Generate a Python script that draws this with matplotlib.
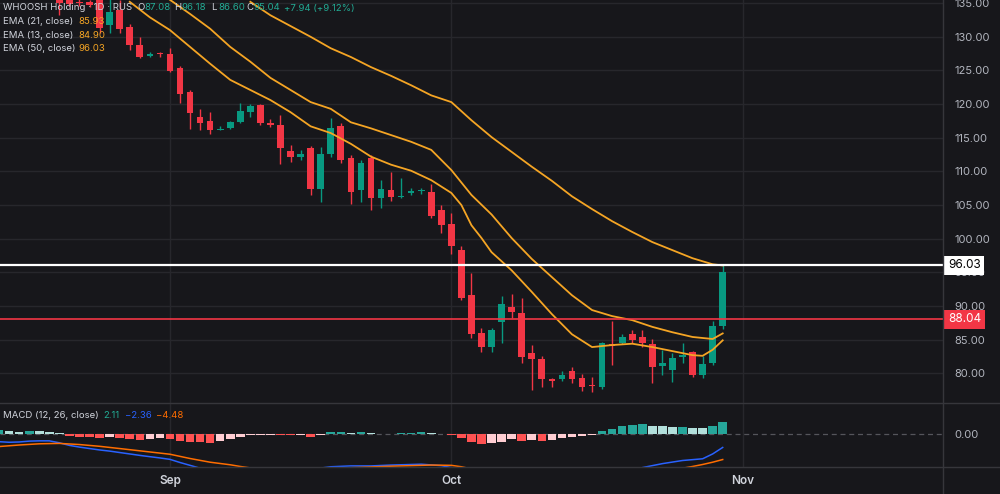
import numpy as np
import matplotlib.pyplot as plt
from matplotlib.lines import Line2D
from matplotlib.transforms import blended_transform_factory

plt.rcParams['font.family'] = ['Inter', 'DejaVu Sans']

BG = '#17171b'
GRID = '#27272c'
SEP = '#36363b'
TEXT = '#b2b5be'
UP = '#089981'
DOWN = '#f23645'
EMA_COL = '#f5a524'

# ---- candles (daily bars, index on the time axis) ----
bar_idx = list(range(5, 72))
opens = [136.0, 136.0, 135.1, 135.2, 136.0, 131.8, 134.0, 131.5, 128.8, 127.1,
         127.45, 127.4, 125.4, 121.8, 118.1, 117.5, 116.2, 116.45, 117.3, 118.8,
         119.9, 117.2, 116.9, 113.0, 112.1, 113.5, 107.4, 112.6, 116.75, 112.0,
         107.2, 112.0, 106.05, 107.2, 106.2, 106.8, 107.05, 106.9, 104.3, 102.2,
         98.3, 91.6, 86.0, 83.9, 87.6, 89.85, 88.96, 83.0, 82.1, 79.15,
         79.15, 80.3, 79.3, 78.15, 78.0, 84.35, 84.5, 85.8, 85.4, 84.35,
         81.1, 80.5, 82.4, 83.2, 79.75, 81.5, 87.08]
highs = [136.5, 136.5, 135.6, 135.5, 136.5, 135.6, 135.4, 131.9, 130.0, 127.7,
         127.7, 128.3, 125.7, 122.1, 119.3, 118.8, 116.7, 117.5, 120.2, 120.0,
         120.0, 117.8, 118.4, 113.9, 113.2, 113.8, 113.6, 117.9, 117.2, 112.4,
         111.7, 112.4, 108.7, 109.9, 109.0, 107.5, 107.5, 108.1, 105.0, 103.8,
         98.9, 94.9, 86.7, 86.7, 91.5, 91.8, 91.2, 84.2, 82.6, 79.3,
         80.3, 80.9, 79.9, 79.45, 84.6, 87.8, 85.8, 86.4, 86.4, 85.1,
         83.5, 83.0, 84.5, 83.3, 82.6, 87.75, 96.18]
lows = [133.2, 134.6, 134.6, 134.5, 130.6, 130.6, 130.6, 128.0, 126.9, 127.0,
        127.0, 124.8, 120.2, 116.3, 116.2, 115.6, 116.1, 116.3, 117.2, 118.1,
        116.9, 116.6, 111.1, 111.4, 111.7, 106.5, 105.5, 112.1, 111.25, 105.2,
        105.5, 104.3, 104.6, 105.6, 106.1, 106.5, 106.6, 103.1, 100.85, 97.7,
        90.9, 85.25, 83.2, 83.2, 84.5, 88.2, 81.5, 77.5, 78.0, 78.0,
        78.9, 78.6, 77.4, 77.2, 77.7, 81.2, 84.4, 84.5, 83.9, 78.6,
        79.75, 78.7, 81.5, 79.45, 79.3, 81.2, 86.60]
closes = [135.0, 134.9, 135.0, 134.8, 131.3, 133.7, 131.2, 128.8, 127.0, 127.4,
          127.4, 124.9, 121.5, 118.7, 117.2, 116.2, 116.3, 117.34, 119.0, 119.7,
          117.2, 116.9, 113.5, 112.1, 112.6, 107.4, 112.6, 116.45, 111.7, 106.9,
          111.25, 106.05, 107.4, 106.2, 106.27, 107.1, 107.1, 103.4, 102.0, 98.9,
          91.2, 85.8, 83.9, 86.4, 90.3, 89.1, 82.4, 82.1, 79.15, 78.9,
          79.75, 79.15, 78.0, 78.1, 84.5, 84.05, 85.4, 84.95, 84.5, 80.9,
          81.5, 82.3, 82.7, 79.75, 81.4, 87.08, 95.04]

# ---- EMA lines ----
ema13_idx = [12, 14, 16, 18, 20, 22, 24, 26, 28, 30, 32, 34, 36, 38, 40, 42, 44,
             45, 46, 47, 48, 50, 52, 54, 56, 58, 60, 62, 64, 66, 68, 69, 70, 71]
ema13 = [135.2, 132.9, 131.0, 128.5, 126.0, 123.6, 122.1, 120.6, 118.8, 116.7,
         115.7, 114.1, 112.2, 111.0, 110.1, 108.7, 106.8, 105.0, 102.0, 100.1,
         98.0, 95.3, 92.1, 88.8, 85.8, 83.9, 84.2, 84.4, 83.9, 83.3, 82.7, 82.6,
         83.5, 84.90]
ema21_idx = [16, 18, 20, 22, 24, 26, 28, 30, 32, 34, 36, 38, 40, 42, 44, 46, 48,
             50, 52, 54, 56, 58, 60, 62, 64, 66, 68, 70, 71]
ema21 = [135.5, 133.4, 131.2, 128.5, 126.3, 123.9, 122.1, 120.3, 119.3, 117.3,
         116.4, 115.4, 114.4, 113.2, 110.2, 106.5, 103.6, 100.1, 97.0, 94.3,
         91.6, 89.4, 88.5, 87.9, 86.9, 86.1, 85.4, 85.1, 85.93]
ema50_idx = [24, 26, 28, 30, 32, 34, 36, 38, 40, 42, 44, 46, 48, 50, 52, 54, 56,
             58, 60, 62, 64, 66, 68, 70, 71]
ema50 = [135.2, 133.2, 131.6, 130.0, 128.3, 127.0, 125.5, 124.2, 122.8, 121.3,
         120.3, 117.6, 115.1, 112.9, 110.7, 108.6, 106.3, 104.4, 102.6, 101.0,
         99.5, 98.3, 97.1, 96.2, 96.03]

# ---- MACD panel ----
hist_idx = list(range(-1, 72))
hist = [0.70, 0.53, 0.41, 0.58, 0.53, 0.41, 0.12, -0.35, -0.47, -0.58,
        -0.76, -0.58, -0.76, -0.94, -1.05, -0.94, -0.76, -0.94, -1.23, -1.40,
        -1.46, -1.52, -1.23, -0.94, -0.47, -0.23, -0.18, -0.12, -0.23, -0.25,
        -0.12, -0.47, -0.18, 0.29, 0.35, 0.12, 0.29, 0.12, 0.06, 0.04,
        0.18, 0.23, 0.35, 0.18, 0.06, -0.12, -0.76, -1.35, -1.81, -1.64,
        -1.35, -0.94, -1.17, -1.05, -1.17, -1.05, -0.76, -0.58, -0.35, -0.18,
        0.47, 0.88, 1.40, 1.58, 1.70, 1.40, 1.35, 1.23, 1.29, 1.05,
        1.02, 1.40, 2.11]
macd_idx = [-1, 0, 1, 2, 3, 4, 5, 6, 7, 8, 9, 10, 11, 12, 13, 14, 15, 16, 17,
            18, 19, 22, 26, 30, 32, 34, 36, 38, 40, 41, 43, 44, 46, 50, 55, 59,
            62, 63, 65, 67, 69, 70, 71]
macd = [-1.35, -1.45, -1.40, -1.25, -1.20, -1.20, -1.55, -2.00, -2.30, -2.55,
        -2.80, -3.00, -3.25, -3.50, -3.75, -3.98, -4.20, -4.45, -5.00, -5.50,
        -6.00, -7.00, -7.00, -6.20, -5.75, -5.60, -5.60, -5.45, -5.35, -5.30,
        -5.55, -5.90, -7.30, -9.00, -9.50, -8.30, -6.50, -5.90, -5.20, -4.65,
        -4.35, -3.50, -2.36]
signal_idx = [-1, 1, 3, 5, 7, 9, 12, 16, 18, 20, 22, 23, 25, 28, 32, 35, 38, 40,
              42, 44, 45, 47, 52, 58, 63, 66, 68, 69, 70, 71]
signal = [-2.20, -1.93, -1.72, -1.65, -1.85, -2.16, -2.75, -3.55, -4.30, -4.95,
          -5.40, -5.70, -6.20, -6.50, -6.05, -5.85, -5.65, -5.55, -5.45, -5.50,
          -5.75, -6.50, -8.00, -8.70, -7.50, -6.30, -5.70, -5.35, -4.95, -4.48]

month_pos = [16, 44, 73]
month_lbl = ['Sep', 'Oct', 'Nov']
price_ticks = list(range(80, 140, 5))
ema50_last = 96.03
red_level = 88.04

W, H = 1000, 494


def fx(px):
    return px / W


def fy(py):
    return 1 - py / H


fig = plt.figure(figsize=(10, 4.94), dpi=100, facecolor=BG)
ax = fig.add_axes([0, fy(403), 943 / W, 403 / H], facecolor=BG)
mx = fig.add_axes([0, fy(467), 943 / W, 64 / H], facecolor=BG)

for a in (ax, mx):
    for s in a.spines.values():
        s.set_visible(False)
    a.set_xlim(-0.91, 92.92)
    a.set_xticks(month_pos)
    a.grid(axis='x', color=GRID, lw=1)
    a.set_axisbelow(True)
    a.yaxis.tick_right()
    a.tick_params(axis='y', length=0, pad=8, labelcolor=TEXT, labelsize=8)

# main pane
ax.set_ylim(75.59, 135.47)
ax.set_yticks(price_ticks)
ax.set_yticklabels([f'{v:.2f}' for v in price_ticks])
ax.grid(axis='y', color=GRID, lw=1)
ax.tick_params(axis='x', length=0, labelbottom=False)

o, h, l, c = map(np.array, (opens, highs, lows, closes))
cols = np.where(c >= o, UP, DOWN)
ax.vlines(bar_idx, l, h, colors=cols, lw=1, zorder=3)
ax.bar(bar_idx, np.maximum(np.abs(c - o), 0.15), bottom=np.minimum(o, c),
       width=0.66, color=cols, zorder=4)

for idx, vals in ((ema13_idx, ema13), (ema21_idx, ema21), (ema50_idx, ema50)):
    ax.plot(idx, vals, color=EMA_COL, lw=1.3, zorder=5)

ax.axhline(ema50_last, color='white', lw=1.6, zorder=6)
ax.axhline(red_level, color=DOWN, lw=1.2, zorder=6)

tr = blended_transform_factory(fig.transFigure, ax.transData)
ax.text(fx(948), ema50_last, f'{ema50_last:.2f}', transform=tr, ha='left', va='center',
        color='black', fontsize=8.5, clip_on=False, zorder=10,
        bbox=dict(boxstyle='square,pad=0.3', fc='white', ec='none'))
ax.text(fx(948), red_level, f'{red_level:.2f}', transform=tr, ha='left', va='center',
        color='white', fontsize=8.5, clip_on=False, zorder=10,
        bbox=dict(boxstyle='square,pad=0.3', fc=DOWN, ec='none'))

# MACD pane
mx.set_ylim(-5.79, 5.44)
mx.set_yticks([0])
mx.set_yticklabels(['0.00'])
mx.axhline(0, color='#55555b', lw=0.9, ls=(0, (4, 3)), zorder=1)
hv = np.array(hist)
prev = np.concatenate([[hv[0]], hv[:-1]])
hcols = np.where(hv >= 0,
                 np.where(hv >= prev, '#26a69a', '#b2dfdb'),
                 np.where(hv <= prev, '#ff5252', '#ffcdd2'))
mx.bar(hist_idx, hv, width=0.85, color=hcols, zorder=2)
mx.plot(macd_idx, macd, color='#2962ff', lw=1.1, zorder=3)
mx.plot(signal_idx, signal, color='#ff6d00', lw=1.1, zorder=3)
mx.set_xticklabels(month_lbl)
mx.tick_params(axis='x', length=0, pad=6, labelcolor='#d1d4dc', labelsize=8.5)
for t in mx.get_xticklabels():
    t.set_fontweight('semibold')

# separators
fig.add_artist(Line2D([0, 1], [fy(403)] * 2, color=SEP, lw=1))
fig.add_artist(Line2D([0, 1], [fy(467)] * 2, color=SEP, lw=1))
fig.add_artist(Line2D([fx(943)] * 2, [0, 1], color=SEP, lw=1))

# legends
fs = 6.9
VAL = '#22ab94'
fig.text(fx(3), fy(8), 'WHOOSH Holding · 1D · RUS', color='#d1d4dc', fontsize=fs, va='center')
for lab, val, x0 in (('O', '87.08', 137), ('H', '96.18', 174), ('L', '86.60', 211), ('C', '95.04', 246)):
    fig.text(fx(x0), fy(8), lab, color='#d1d4dc', fontsize=fs, va='center')
    fig.text(fx(x0 + 7), fy(8), val, color=VAL, fontsize=fs, va='center')
fig.text(fx(284), fy(8), '+7.94 (+9.12%)', color=VAL, fontsize=fs, va='center')

for row, (name, val) in enumerate((('EMA (21, close)', '85.93'),
                                   ('EMA (13, close)', '84.90'),
                                   ('EMA (50, close)', '96.03'))):
    y = fy(22 + 13.3 * row)
    fig.text(fx(3), y, name, color='#d1d4dc', fontsize=fs, va='center')
    fig.text(fx(78), y, val, color=EMA_COL, fontsize=fs, va='center')

fig.text(fx(3), fy(416), 'MACD (12, 26, close)', color='#d1d4dc', fontsize=fs, va='center')
fig.text(fx(103), fy(416), '2.11', color=VAL, fontsize=fs, va='center')
fig.text(fx(125), fy(416), '\u22122.36', color='#2962ff', fontsize=fs, va='center')
fig.text(fx(156), fy(416), '\u22124.48', color='#ff6d00', fontsize=fs, va='center')

fig.savefig('out.png', dpi=100, facecolor=BG)
